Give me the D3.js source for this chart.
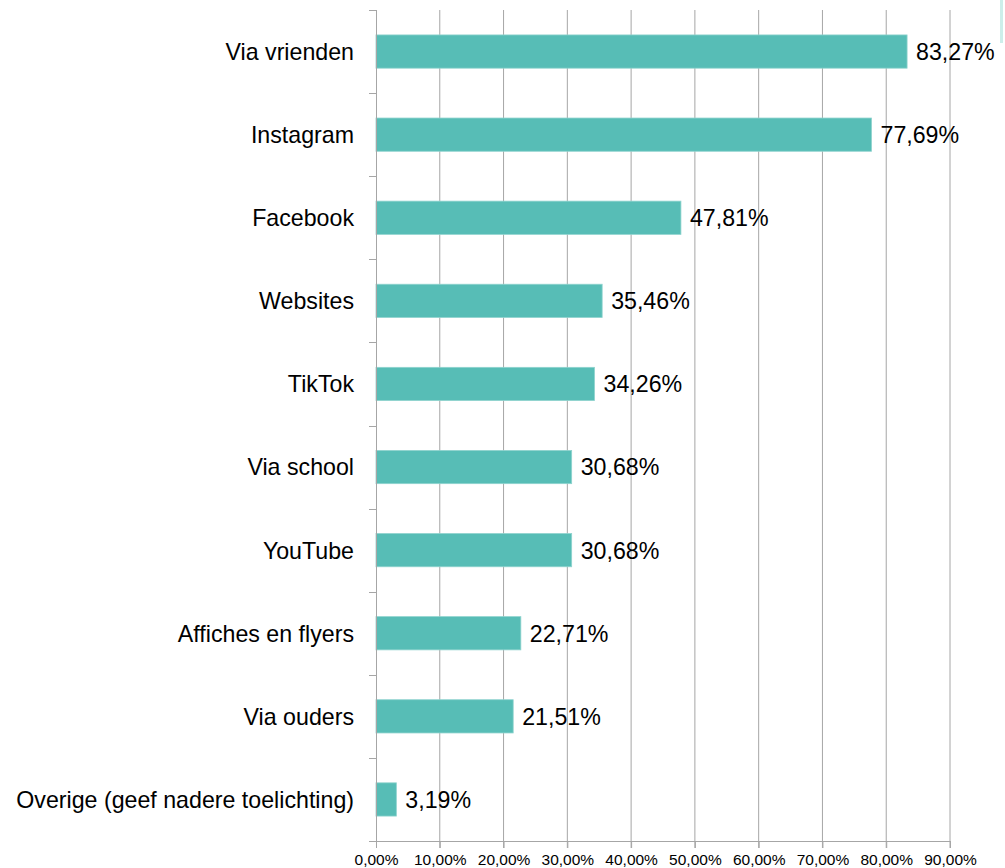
<!DOCTYPE html>
<html>
<head>
<meta charset="utf-8">
<script src="https://cdn.jsdelivr.net/npm/d3@7"></script>
<style>
	body { margin: 0; background: #fff; }
	svg { display: block; font-family: "Liberation Sans", Arial, sans-serif; }
</style>
</head>
<body>
<script>

// data
var categories = ["Via vrienden", "Instagram", "Facebook", "Websites", "TikTok",
	"Via school", "YouTube", "Affiches en flyers", "Via ouders",
	"Overige (geef nadere toelichting)"];
var values = [83.27, 77.69, 47.81, 35.46, 34.26, 30.68, 30.68, 22.71, 21.51, 3.19];
var ticks = [0, 10, 20, 30, 40, 50, 60, 70, 80, 90];

var width = 1005,
	height = 868;
var margin = {top: 10, right: 55, bottom: 27, left: 376};
var plot_w = width - margin.left - margin.right,
	plot_h = height - margin.top - margin.bottom;

var BAR_COLOUR = "#57bdb6";
var GRID_COLOUR = "#a6a6a6";
var LABEL_SIZE = "23.2px";

// format as dutch percentage
function pct(v) { return v.toFixed(2).replace(".", ",") + "%"; }

var data = categories.map(function(c, i) { return {name: c, value: values[i]}; });

var svg = d3.select("body").append("svg")
	.attr("width", width)
	.attr("height", height);

var g = svg.append("g")
	.attr("transform", "translate(" + margin.left + "," + margin.top + ")");

var x = d3.scaleLinear().domain([0, 90]).range([0, plot_w]);
var y = d3.scaleBand().domain(categories).range([0, plot_h]).paddingInner(0.6).paddingOuter(0.3);

// vertical gridlines
g.append("g")
	.selectAll("line")
	.data(ticks.slice(1))
	.enter().append("line")
	.attr("x1", function(d) { return x(d); })
	.attr("x2", function(d) { return x(d); })
	.attr("y1", 0)
	.attr("y2", plot_h + 7)
	.attr("stroke", GRID_COLOUR)
	.attr("stroke-width", 1);

// bars
g.append("g")
	.selectAll("rect")
	.data(data)
	.enter().append("rect")
	.attr("x", x(0))
	.attr("y", function(d) { return y(d.name); })
	.attr("width", function(d) { return x(d.value) - x(0); })
	.attr("height", y.bandwidth())
	.attr("fill", BAR_COLOUR)
	.attr("stroke", "#8fd3ce")
	.attr("stroke-width", 0.8);

// value labels
g.append("g")
	.selectAll("text")
	.data(data)
	.enter().append("text")
	.attr("x", function(d) { return x(d.value) + 9; })
	.attr("y", function(d) { return y(d.name) + y.bandwidth() / 2; })
	.attr("dy", "0.36em")
	.style("font-size", LABEL_SIZE)
	.attr("fill", "#000")
	.text(function(d) { return pct(d.value); });

// y axis: band boundaries as ticks
var step = plot_h / categories.length;
var y_axis = g.append("g");
y_axis.append("line")
	.attr("x1", 0.5).attr("x2", 0.5)
	.attr("y1", 0).attr("y2", plot_h)
	.attr("stroke", GRID_COLOUR);
y_axis.selectAll("line.tick")
	.data(d3.range(categories.length + 1))
	.enter().append("line")
	.attr("class", "tick")
	.attr("x1", -7).attr("x2", 0)
	.attr("y1", function(d) { return Math.round(d * step) + 0.5; })
	.attr("y2", function(d) { return Math.round(d * step) + 0.5; })
	.attr("stroke", GRID_COLOUR);

// category labels
g.append("g")
	.selectAll("text")
	.data(categories)
	.enter().append("text")
	.attr("x", -22)
	.attr("y", function(d) { return y(d) + y.bandwidth() / 2; })
	.attr("dy", "0.36em")
	.attr("text-anchor", "end")
	.style("font-size", LABEL_SIZE)
	.attr("fill", "#000")
	.text(function(d) { return d; });

// x axis
var x_axis = g.append("g")
	.attr("transform", "translate(0," + plot_h + ")")
	.call(d3.axisBottom(x).tickValues(ticks).tickSize(7).tickPadding(6).tickFormat(pct));
x_axis.select(".domain").attr("stroke", GRID_COLOUR);
x_axis.selectAll(".tick line").attr("stroke", GRID_COLOUR);
x_axis.selectAll(".tick text")
	.attr("fill", "#000")
	.style("font-size", "15.5px")
	.style("font-family", "'Liberation Sans', Arial, sans-serif");
x_axis.select(".domain").attr("d", "M-7,0.5H" + (plot_w + 0.5));

// pale strip cut off at the top right
svg.append("rect")
	.attr("x", 1000).attr("y", 0)
	.attr("width", 3).attr("height", 43)
	.attr("fill", "#cdeeea");

</script>
</body>
</html>
